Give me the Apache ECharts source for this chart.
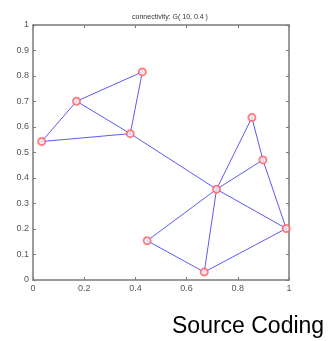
<!DOCTYPE html>
<html><head><meta charset="utf-8">
<script src="https://cdn.jsdelivr.net/npm/echarts@6/dist/echarts.min.js"></script>
<style>html,body{margin:0;padding:0;background:#fff}#c{width:331px;height:341px}</style>
</head><body><div id="c"></div>
<script>
var nodeX = [0.034, 0.17, 0.427, 0.38, 0.717, 0.855, 0.898, 0.989, 0.446, 0.669];
var nodeY = [0.543, 0.701, 0.816, 0.574, 0.356, 0.637, 0.471, 0.202, 0.154, 0.031];
var edges = [[0,1],[0,3],[1,3],[1,2],[2,3],[3,4],[4,5],[4,6],[4,7],[4,8],[4,9],[5,6],[6,7],[7,9],[8,9]];
var xTicks = [0, 0.2, 0.4, 0.6, 0.8, 1];
var yTicks = [0, 0.1, 0.2, 0.3, 0.4, 0.5, 0.6, 0.7, 0.8, 0.9, 1];
var titleText = 'connectivity: G( 10, 0.4 )';
var footer = 'Source Coding';

var nodes = nodeX.map(function(x,i){return [x, nodeY[i]];});
var lineData = edges.map(function(e){return {coords:[nodes[e[0]], nodes[e[1]]]};});
function fmt(v){ return String(v); }
var axisCol = '#7a7a7a';
function ax(type, pos, interval, showLabel){
  return {type:'value',min:0,max:1,interval:interval,position:pos,
    axisLine:{show:true,onZero:false,lineStyle:{color:axisCol,width:1.5}},
    axisTick:{show:true,inside:true,length:3,lineStyle:{color:axisCol}},
    axisLabel:{show:showLabel,color:'#555',fontSize:9,margin:4,fontFamily:'Arial',formatter:fmt},
    splitLine:{show:false}};
}
var chart = echarts.init(document.getElementById('c'));
chart.setOption({
  animation:false,
  title:[{text:titleText,left:165,top:9,textAlign:'center',textStyle:{fontSize:7,fontWeight:'normal',color:'#333',fontFamily:'Arial'}},
         {text:footer,left:167,top:310,textStyle:{fontSize:23,fontWeight:'normal',color:'#000',fontFamily:'Liberation Sans'}}],
  grid:{left:33,right:42,top:25,bottom:61},
  xAxis:[ax('x','bottom',0.2,true), ax('x','top',0.2,false)],
  yAxis:[ax('y','left',0.1,true), ax('y','right',0.1,false)],
  series:[
    {type:'lines',coordinateSystem:'cartesian2d',data:lineData,
     lineStyle:{color:'#5a5af5',width:1,opacity:1},z:2},
    {type:'scatter',data:nodes,symbol:'circle',symbolSize:3,
     itemStyle:{color:'#3030d0'},z:3},
    {type:'scatter',data:nodes,symbol:'emptyCircle',symbolSize:7,
     itemStyle:{color:'#ff6060',borderColor:'#ff6060',borderWidth:1},z:4}
  ]
});
</script></body></html>
